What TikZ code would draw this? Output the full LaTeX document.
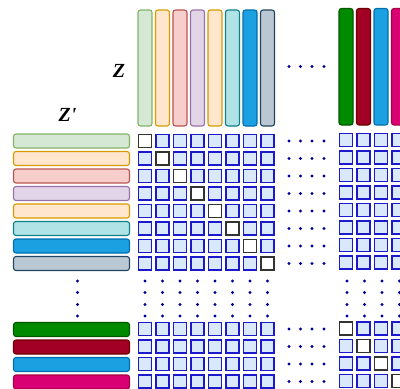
\documentclass[tikz,border=0pt]{standalone}
\usepackage{fontspec}
\newfontfamily\zfont{Liberation Serif}
\definecolor{zgreen}{HTML}{D5E8D4}
\definecolor{zgreenline}{HTML}{82B366}
\definecolor{zorange}{HTML}{FFE6CC}
\definecolor{zorangeline}{HTML}{D79B00}
\definecolor{zred}{HTML}{F8CECC}
\definecolor{zredline}{HTML}{B85450}
\definecolor{zpurple}{HTML}{E1D5E7}
\definecolor{zpurpleline}{HTML}{9673A6}
\definecolor{zteal}{HTML}{B0E3E6}
\definecolor{ztealline}{HTML}{0E8088}
\definecolor{zblue}{HTML}{1BA1E2}
\definecolor{zblueline}{HTML}{006EAF}
\definecolor{zslate}{HTML}{BAC8D3}
\definecolor{zslateline}{HTML}{23445D}
\definecolor{zdkgreen}{HTML}{008A00}
\definecolor{zdkgreenline}{HTML}{005700}
\definecolor{zcrimson}{HTML}{A20025}
\definecolor{zcrimsonline}{HTML}{6F0000}
\definecolor{zmagenta}{HTML}{D80073}
\definecolor{zmagentaline}{HTML}{A50040}
\definecolor{cellfill}{HTML}{DAE8FC}
\definecolor{cellline}{HTML}{1A1ACC}
\definecolor{dotblue}{HTML}{000099}

\begin{document}
\begin{tikzpicture}[x=1pt,y=-1pt,
		bar/.style={line width=1.1pt,rounded corners=2.5pt},
		cell/.style={fill=cellfill,draw=cellline,line width=1.8pt},
		diagcell/.style={fill=white,draw=black!80,line width=1.8pt},
		dotmark/.style={fill=dotblue},
		zname/.style={font=\zfont\fontsize{20}{20}\selectfont\bfseries\itshape}]
	\clip (0,0) rectangle (400,389);
	% column vectors z
	\foreach \f/\d [count=\i from 0] in {zgreen/zgreenline,zorange/zorangeline,
			zred/zredline,zpurple/zpurpleline,zorange/zorangeline,zteal/ztealline,
			zblue/zblueline,zslate/zslateline}{
			\draw[bar,fill=\f,draw=\d] (138+\i*17.5,10) rectangle ++(14,116);
			\draw[bar,fill=\f,draw=\d] (13.5,134+\i*17.5) rectangle ++(116,14);}
	\foreach \f/\d [count=\i from 0] in {zdkgreen/zdkgreenline,zcrimson/zcrimsonline,
			zblue/zblueline,zmagenta/zmagentaline}{
			\draw[bar,fill=\f,draw=\d] (339+\i*17.5,8.5) rectangle ++(14,116.5);
			\draw[bar,fill=\f,draw=\d] (13.5,322.5+\i*17.5) rectangle ++(116,14);}
	% labels
	\node[zname] (zlabel) at (119,71) {Z};
	\node[zname] (zplabel) at (67.5,114.5) {Z'};
	% similarity grids
	\foreach \i in {0,...,7}{
			\foreach \j in {0,...,7}{
					\draw[cell] (138.5+\i*17.5,134.5+\j*17.5) rectangle ++(13,13);}
			\foreach \j in {0,...,3}{
					\draw[cell] (138.5+\i*17.5,322.5+\j*17.5) rectangle ++(13,13);}
			\draw[diagcell] (138.5+\i*17.5,134.5+\i*17.5) rectangle ++(13,13);}
	\foreach \i in {0,...,3}{
			\foreach \j in {0,...,7}{
					\draw[cell] (339.5+\i*17.5,133.5+\j*17.5) rectangle ++(13,13);}
			\foreach \j in {0,...,3}{
					\draw[cell] (339.5+\i*17.5,322+\j*17.5) rectangle ++(13,13);}
			\draw[diagcell] (339.5+\i*17.5,322+\i*17.5) rectangle ++(13,13);}
	% dots
	\foreach \x in {289,300.5,312,324}{
			\fill[dotmark] (\x,66.5) circle (1.6);
			\foreach \j in {0,...,7}{\fill[dotmark] (\x,141+\j*17.5) circle (1.6);}
			\foreach \j in {0,...,3}{\fill[dotmark] (\x,329+\j*17.5) circle (1.6);}}
	\foreach \y in {281,292.5,304.5,316}{
			\fill[dotmark] (77.5,\y) circle (1.6);
			\foreach \i in {0,...,7}{\fill[dotmark] (145+\i*17.5,\y) circle (1.6);}
			\foreach \i in {0,...,3}{\fill[dotmark] (347+\i*17.5,\y) circle (1.6);}}
\end{tikzpicture}
\end{document}
